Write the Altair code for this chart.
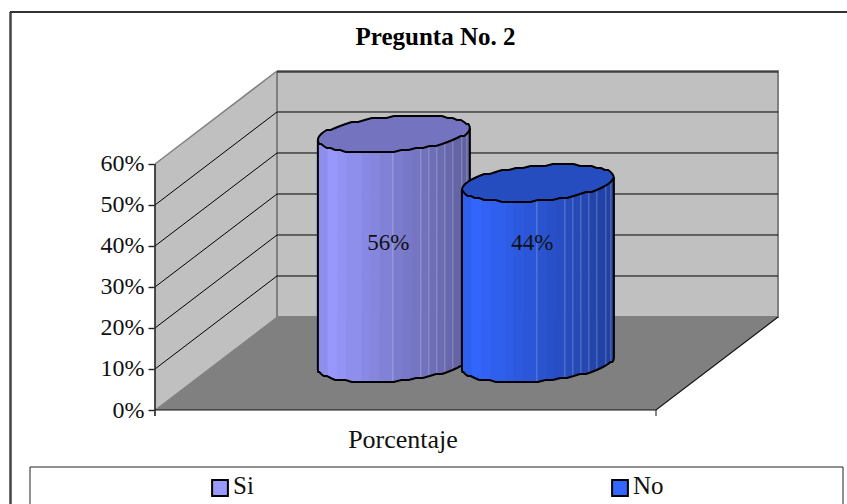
import math
import altair as alt
import pandas as pd

# Survey results
categories = ["Si", "No"]
percent = [56, 44]
side_colors = ["#9999FF", "#3366FF"]
top_colors = ["#7373BF", "#264DBF"]
axis_ticks = [0, 10, 20, 30, 40, 50, 60]

chart_title = "Pregunta No. 2"
category_label = "Porcentaje"
font = "Liberation Serif"

# Oblique box: x runs 0..1 along the category axis, depth 0..1 towards the back wall.
PX_X = 501
PX_Y = 4.1
Y_TOP = 82.68
X_SPAN = 624 / PX_X
DEPTH_X = 122 / PX_X
DEPTH_Y = 93 / PX_Y
CENTERS = [0.355, 0.6425]
RADIUS = 76
RADIUS_X = 72 / PX_X
RADIUS_Y = 18.5 / PX_Y
SHEAR = 24.3 / PX_X
PHI = math.atan2(SHEAR, RADIUS_X)
RIM_SEGMENTS = 32

# Shaded strips across the cylinder front and the seams between them, in pixels from its axis
strip_edges = [-76, -66, -56, -47, -32, -24, -14, -1, 9, 18, 27, 35, 43, 51, 59, 68, 73, 76]
seam_offsets = [-1, 27, 35, 43, 51, 59, 68, 73]


def rim(center, level, theta):
    """Point of a cylinder section; theta 0..pi walks the front edge left to right."""
    angle = math.pi + PHI + theta
    x = center + DEPTH_X * 0.5 + RADIUS_X * math.cos(angle) + SHEAR * math.sin(angle)
    y_px = (level + DEPTH_Y * 0.5 + RADIUS_Y * math.sin(angle)) * PX_Y
    # The rim sits on a coarse device grid, which gives it a faceted edge
    y_px = round(y_px / 2) * 2
    return x, y_px / PX_Y


def rim_at(center, level, dx):
    return rim(center, level, math.acos(max(-1, min(1, -dx / RADIUS))))


def shade(hex_color, factor):
    r, g, b = (int(hex_color[i:i + 2], 16) for i in (1, 3, 5))
    return "#%02x%02x%02x" % (round(r * factor), round(g * factor), round(b * factor))


x_scale = alt.Scale(domain=[0, X_SPAN], range=[1, 625], nice=False, zero=False)
y_scale = alt.Scale(domain=[0, Y_TOP], range=[339, 0], nice=False, zero=False)
y_axis = alt.Axis(
    values=axis_ticks, labelExpr="datum.value + '%'", title=None,
    domain=False, grid=False, tickColor="#222222", tickSize=6, tickWidth=1.4,
    labelFont=font, labelFontSize=24, labelColor="#111111", labelPadding=4,
)
X = lambda f: alt.X(f, type="quantitative", scale=x_scale, axis=None)
Y = lambda f: alt.Y(f, type="quantitative", scale=y_scale, stack=None, axis=y_axis)


def polygon_area(rows, color, edge=None):
    df = pd.DataFrame(rows, columns=["x", "y", "y2"])
    mark = dict(color=color, interpolate="linear")
    if edge:
        mark.update(stroke=edge, strokeWidth=0.7)
    return alt.Chart(df).mark_area(**mark).encode(X("x"), Y("y"), y2="y2")


def polyline(points, color, width, opacity=1):
    df = pd.DataFrame(points, columns=["x", "y"])
    df["o"] = range(len(df))
    return alt.Chart(df).mark_line(
        color=color, strokeWidth=width, opacity=opacity, interpolate="linear"
    ).encode(X("x"), Y("y"), order="o:Q")


TOP_V = axis_ticks[-1]
fx = 1 + DEPTH_X
layers = []

# Walls and floor
layers.append(polygon_area([(0, 0, TOP_V), (DEPTH_X, DEPTH_Y, TOP_V + DEPTH_Y)], "#C0C0C0"))
layers.append(polygon_area([(DEPTH_X, DEPTH_Y, TOP_V + DEPTH_Y), (fx, DEPTH_Y, TOP_V + DEPTH_Y)], "#C0C0C0"))
layers.append(polygon_area(
    [(0, 0, 0), (DEPTH_X, DEPTH_Y, 0), (1, DEPTH_Y, 0), (fx, DEPTH_Y, DEPTH_Y)], "#808080"))

# Wall borders
layers.append(polyline([(0, TOP_V), (DEPTH_X, TOP_V + DEPTH_Y)], "#808080", 1.5))
layers.append(polyline([(DEPTH_X, TOP_V + DEPTH_Y), (DEPTH_X, DEPTH_Y), (fx, DEPTH_Y),
                        (fx, TOP_V + DEPTH_Y), (DEPTH_X, TOP_V + DEPTH_Y)], "#808080", 2))
layers.append(polyline([(0, 0), (DEPTH_X, DEPTH_Y)], "#808080", 1))

# Gridlines on both walls
for tick in axis_ticks[1:]:
    if tick < TOP_V:
        layers.append(polyline(
            [(0, tick), (DEPTH_X, tick + DEPTH_Y), (fx, tick + DEPTH_Y)], "#000000", 1))
layers.append(polyline([(DEPTH_X, TOP_V + DEPTH_Y - 0.25), (fx, TOP_V + DEPTH_Y - 0.25)], "#000000", 1))

# Axis lines along the front of the box
layers.append(polyline([(0, TOP_V), (0, -1.46)], "#222222", 1.6))
layers.append(polyline([(0, 0), (1, 0), (fx, DEPTH_Y)], "#111111", 1.2))
layers.append(polyline([(1, 0), (1, -1.46)], "#111111", 1))

# Cylinders
for center, value, side, top in zip(CENTERS, percent, side_colors, top_colors):
    for left, right in zip(strip_edges[:-1], strip_edges[1:]):
        mid = (left + right) / 2
        factor = 0.93 if mid < -66 else 1.0 - 0.38 * (mid + 66) / 142
        rows = []
        for dx in (left, right):
            x, base_y = rim_at(center, 0, dx)
            _, top_y = rim_at(center, value, dx)
            rows.append((x, base_y, top_y))
        color = shade(side, factor)
        layers.append(polygon_area(rows, color, edge=color))

    # Light seams between strips
    for dx in seam_offsets:
        x, base_y = rim_at(center, 0, dx)
        _, top_y = rim_at(center, value, dx)
        layers.append(polyline([(x, base_y), (x, top_y)], "#FFFFFF", 1, opacity=0.28))

    # Top cap
    front = [rim(center, value, math.pi * k / RIM_SEGMENTS) for k in range(RIM_SEGMENTS + 1)]
    back = [rim(center, value, -math.pi * k / RIM_SEGMENTS) for k in range(RIM_SEGMENTS + 1)]
    cap_x = sorted(set(p[0] for p in front + back))

    def edge_y(points, xq):
        pts = sorted(points)
        for (x0, y0), (x1, y1) in zip(pts[:-1], pts[1:]):
            if x0 <= xq <= x1:
                return y0 if x1 == x0 else y0 + (y1 - y0) * (xq - x0) / (x1 - x0)
        return pts[-1][1]

    layers.append(polygon_area([(xq, edge_y(front, xq), edge_y(back, xq)) for xq in cap_x], top))

    # Outline of the body and the cap
    base = [rim(center, 0, math.pi * k / RIM_SEGMENTS) for k in range(RIM_SEGMENTS + 1)]
    layers.append(polyline(back + front[::-1], "#000000", 2))
    layers.append(polyline([front[0]] + base + [front[-1]], "#000000", 2))

# Value labels
label_df = pd.DataFrame({
    "x": [c + DEPTH_X * 0.5 - 5.5 / PX_X for c in CENTERS],
    "y": [40.8, 40.8],
    "t": [f"{v}%" for v in percent],
})
layers.append(alt.Chart(label_df).mark_text(font=font, fontSize=23, color="#111111").encode(
    X("x"), Y("y"), text="t:N"))

# Category caption and title
layers.append(alt.Chart(pd.DataFrame({"t": [category_label]})).mark_text(
    font=font, fontSize=26, color="#111111").encode(
    x=alt.value(249), y=alt.value(369), text="t:N"))
layers.append(alt.Chart(pd.DataFrame({"t": [chart_title]})).mark_text(
    font=font, fontSize=25, fontWeight="bold", color="#000000").encode(
    x=alt.value(281.5), y=alt.value(-34), text="t:N"))

# Outer frame, open on the right and bottom
layers.append(alt.Chart(pd.DataFrame({"a": [1]})).mark_rule(color="#444444", strokeWidth=2.5).encode(
    x=alt.value(-143.5), y=alt.value(-59), y2=alt.value(440)))
layers.append(alt.Chart(pd.DataFrame({"a": [1]})).mark_rule(color="#333333", strokeWidth=2).encode(
    x=alt.value(-144), x2=alt.value(700), y=alt.value(-59)))

# Legend box and entries
layers.append(alt.Chart(pd.DataFrame({"a": [1]})).mark_rect(
    fill="#FFFFFF", stroke="#222222", strokeWidth=1).encode(
    x=alt.value(-124), x2=alt.value(689), y=alt.value(396), y2=alt.value(460)))

legend_df = pd.DataFrame({"t": categories, "c": side_colors, "px": [66, 466]})
layers.append(alt.Chart(legend_df).mark_square(size=250, strokeWidth=2, stroke="#000000", opacity=1).encode(
    x=alt.X("px:Q", scale=None), y=alt.value(417), fill=alt.Fill("c:N", scale=None)))
layers.append(alt.Chart(legend_df).transform_calculate(tx="datum.px + 13").mark_text(
    font=font, fontSize=25, align="left", color="#111111").encode(
    x=alt.X("tx:Q", scale=None), y=alt.value(415), text="t:N"))

chart = alt.layer(*layers).properties(
    width=624,
    height=339,
    padding={"left": 154, "top": 71, "right": 69, "bottom": 94},
    autosize=alt.AutoSizeParams(type="none"),
    background="#FFFFFF",
).configure_view(stroke=None)

chart.save("out.html", embed_options={"renderer": "svg", "actions": False})
